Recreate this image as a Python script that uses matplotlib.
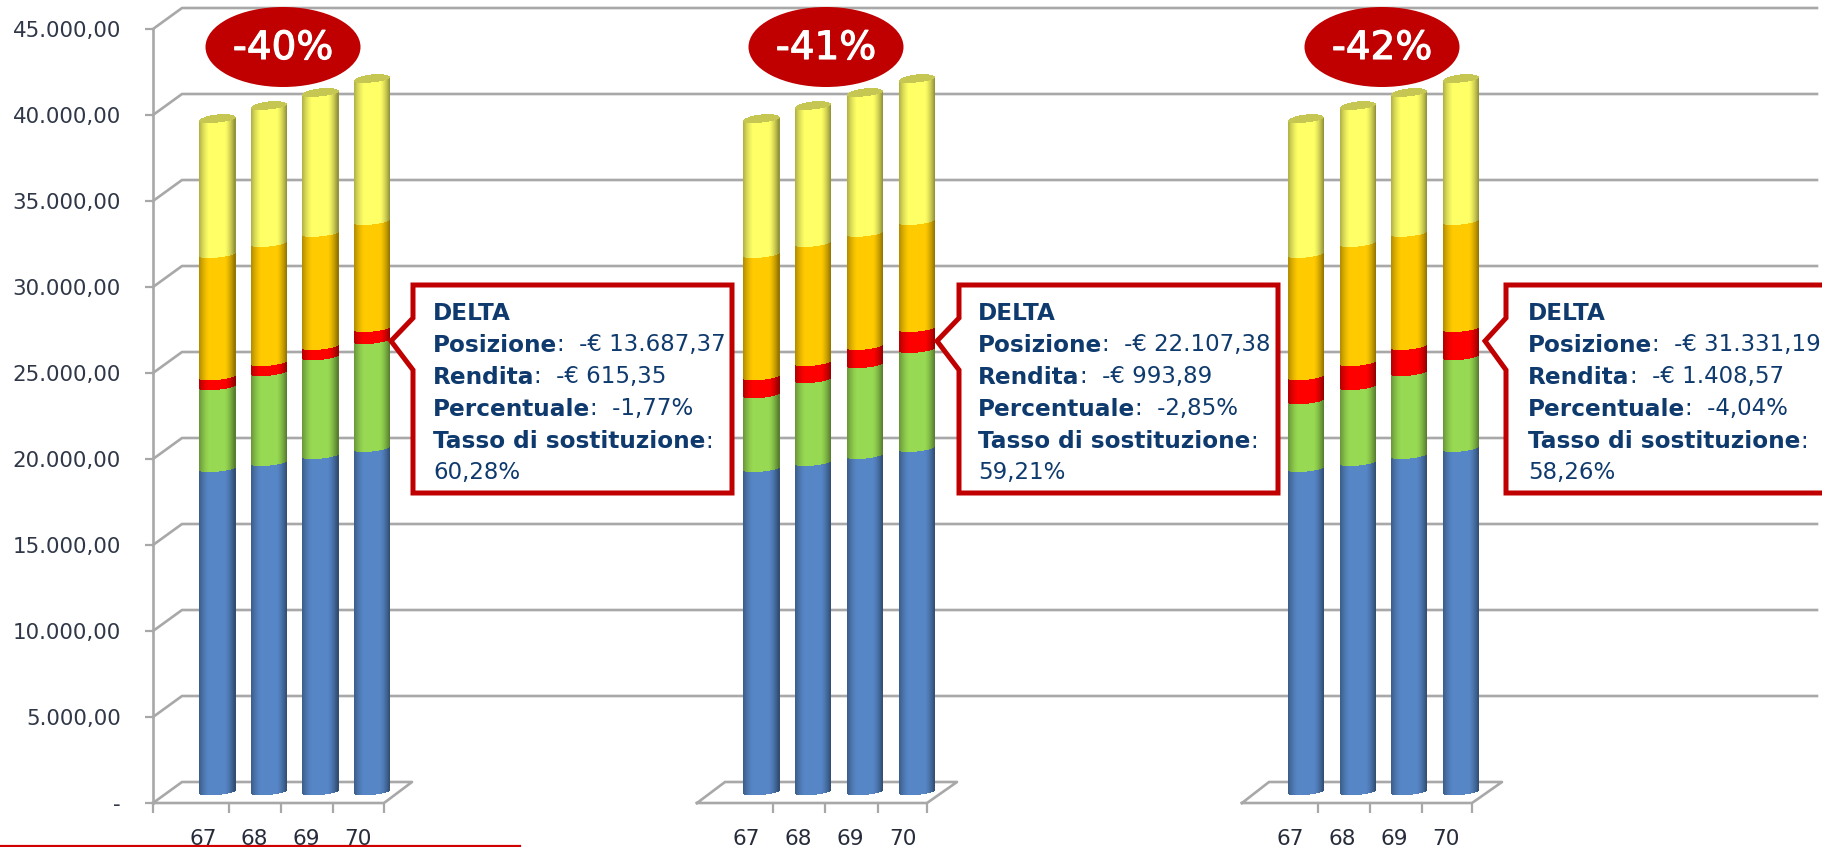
import matplotlib
matplotlib.use('Agg')
import matplotlib.pyplot as plt
import matplotlib.patheffects as pe
from matplotlib.patches import Ellipse, Polygon
import numpy as np

# values: cumulative top of each stacked segment
anni = ['67', '68', '69', '70']
tick_vals = list(range(0, 45001, 5000))
blu = [18800, 19150, 19560, 19970]
verde = [[23560, 24380, 25300, 26240],
         [23090, 23970, 24840, 25720],
         [22740, 23560, 24380, 25300]]
rosso = [24140, 24960, 25900, 26940]
arancio = [31250, 31890, 32480, 33170]
giallo = [39100, 39860, 40620, 41430]

titoli = ['-40%', '-41%', '-42%']
posizione = ['-€ 13.687,37', '-€ 22.107,38', '-€ 31.331,19']
rendita = ['-€ 615,35', '-€ 993,89', '-€ 1.408,57']
percentuale = ['-1,77%', '-2,85%', '-4,04%']
tasso = ['60,28%', '59,21%', '58,26%']

# layout in pixels of the 1822x847 picture
W, H = 1822, 847
Y0, K = 803.0, 86.0 / 5000
BAR_W = 36
DEPTH = 8 / K  # bars stand a bit behind the front of the floor
centres = [[217.5, 269, 320.5, 372], [761.5, 813, 865, 917], [1306, 1358, 1409, 1461]]
floors = [(153, 384, 182, 412), (697, 927, 725, 957), (1242, 1472, 1269, 1502)]
ticks = [[153, 229, 281, 333, 384], [773, 825, 878, 927], [1318, 1370, 1422, 1472]]
label_x = [[203, 254, 306, 358], [746, 798, 850, 903], [1290, 1342, 1394, 1446]]
ellipse_x = [283, 826, 1382]
box_x = [(391, 413, 732), (937, 959, 1278), (1485, 1506, 1840)]
text_x = [433, 978, 1528]

GREY = '#a8a8a8'
NAVY = '#0f3a6e'
DARK_RED = '#c00000'
FONT = 'DejaVu Sans'

fig = plt.figure(figsize=(W / 100, H / 100), dpi=100)

# background layer: walls and floors, in pixels
bg = fig.add_axes([0, 0, 1, 1], zorder=0)
bg.set_xlim(0, W)
bg.set_ylim(H, 0)
bg.axis('off')
for v in tick_vals[1:]:
    yf = Y0 - v * K
    bg.plot([153, 182, 1817], [yf, yf - 21, yf - 21], color=GREY, lw=1.9)
for xf0, xf1, xb0, xb1 in floors:
    bg.plot([xf0, xb0, xb1, xf1, xf0], [Y0, Y0 - 21, Y0 - 21, Y0, Y0], color=GREY, lw=1.9)

# value axis: the bars go through this one
ax = fig.add_axes([0, 0, 1, 1], zorder=1)
ax.patch.set_visible(False)
ax.set_xlim(0, W)
ax.set_ylim(-(H - Y0) / K, Y0 / K)
for s in ['top', 'right']:
    ax.spines[s].set_visible(False)
ax.spines['left'].set_position(('data', 153))
ax.spines['left'].set_bounds(0, 45000)
ax.spines['left'].set_color(GREY)
ax.spines['left'].set_linewidth(1.9)
ax.spines['bottom'].set_position(('data', 0))
ax.spines['bottom'].set_visible(False)
ax.set_yticks(tick_vals)
ax.set_yticklabels(['-'] + [f'{v:,.2f}'.replace(',', 'X').replace('.', ',').replace('X', '.')
                            for v in tick_vals[1:]], fontsize=15.4, family=FONT, color='#303848')
ax.tick_params(axis='y', length=6, width=1.6, color=GREY, pad=17)
ax.set_xticks([t for g in ticks for t in g])
ax.set_xticklabels([])
ax.tick_params(axis='x', length=7.5, width=1.6, color=GREY)
ax.set_xticks([x for g in label_x for x in g], anni * 3, minor=True, fontsize=15.5,
              family=FONT, color='#262c3a')
ax.tick_params(axis='x', which='minor', length=0, pad=19)

COL_BLU, COL_VERDE, COL_ROSSO = '#5686c6', '#97d952', '#ff0000'
COL_ARANCIO, COL_GIALLO, COL_CAP = '#ffca00', '#ffff66', '#c6c652'


def shade(col, t):
    c = np.array(matplotlib.colors.to_rgb(col))
    edge = 0.32 if t < 0 else 0.45
    f = 1 - edge * np.clip((abs(t) - 0.42) / 0.58, 0, 1) ** 1.5
    return tuple(c * f)


def cylinder(xc, tops):
    xs = xc - BAR_W / 2 + np.arange(BAR_W) + 0.5
    ts = (xs - xc) / (BAR_W / 2)
    cols = [COL_BLU, COL_VERDE, COL_ROSSO, COL_ARANCIO, COL_GIALLO]
    # front edge of a tilted ellipse, in value units
    front = (3 * (1 - np.sqrt(1 - ts ** 2)) + 1.8 * ts) / K
    lo = 0
    for col, hi in zip(cols, tops):
        for x, t, u in zip(xs, ts, front):
            ax.bar(x, hi - lo, width=1.02, bottom=DEPTH + lo + u, color=[shade(col, t)],
                   linewidth=0, antialiased=False)
        lo = hi
    for x, t, u in zip(xs, ts, front):
        ax.bar(x, 8 * np.sqrt(1 - t ** 2) / K, width=1.02, bottom=DEPTH + lo + u, color=COL_CAP,
               linewidth=0, antialiased=False)


for g, cs in enumerate(centres):
    for i, xc in enumerate(cs):
        cylinder(xc, [blu[i], verde[g][i], rosso[i], arancio[i], giallo[i]])

# foreground layer: badges and callouts, in pixels
fg = fig.add_axes([0, 0, 1, 1], zorder=2)
fg.set_xlim(0, W)
fg.set_ylim(H, 0)
fg.axis('off')
for x, t in zip(ellipse_x, titoli):
    fg.add_patch(Ellipse((x, 47), 155, 80, facecolor=DARK_RED, edgecolor='none'))
    fg.text(x, 48, t, color='white', fontsize=28, family=FONT, ha='center', va='center',
            path_effects=[pe.withStroke(linewidth=0.8, foreground='white')])

for g in range(3):
    tip, left, right = box_x[g]
    pts = [(left, 285), (right, 285), (right, 493), (left, 493), (left, 370), (tip, 341), (left, 318)]
    fg.add_patch(Polygon(pts, closed=True, facecolor='white', edgecolor=DARK_RED,
                         linewidth=3.6, joinstyle='miter'))
    rows = [('DELTA', None), ('Posizione', posizione[g]), ('Rendita', rendita[g]),
            ('Percentuale', percentuale[g]), ('Tasso di sostituzione', None)]
    for r, (name, val) in enumerate(rows):
        yb = 319.5 + r * 32
        lab = fg.text(text_x[g], yb, name, color=NAVY, fontsize=16.7, family=FONT, weight='bold',
                      ha='left', va='baseline')
        if r == 0:
            continue
        tail = ':' if val is None else ':  ' + val
        fg.annotate(tail, xy=(1, 0), xycoords=lab, xytext=(0, 0), textcoords='offset points',
                    color=NAVY, fontsize=16.5, family=FONT, ha='left', va='bottom')
    fg.text(text_x[g], 319.5 + 5 * 32, tasso[g], color=NAVY, fontsize=16.5, family=FONT,
            ha='left', va='baseline')

# red rule at the very bottom
fg.plot([0, 520], [846, 846], color='#d00000', lw=1.6)

plt.savefig('out.png', dpi=100)
